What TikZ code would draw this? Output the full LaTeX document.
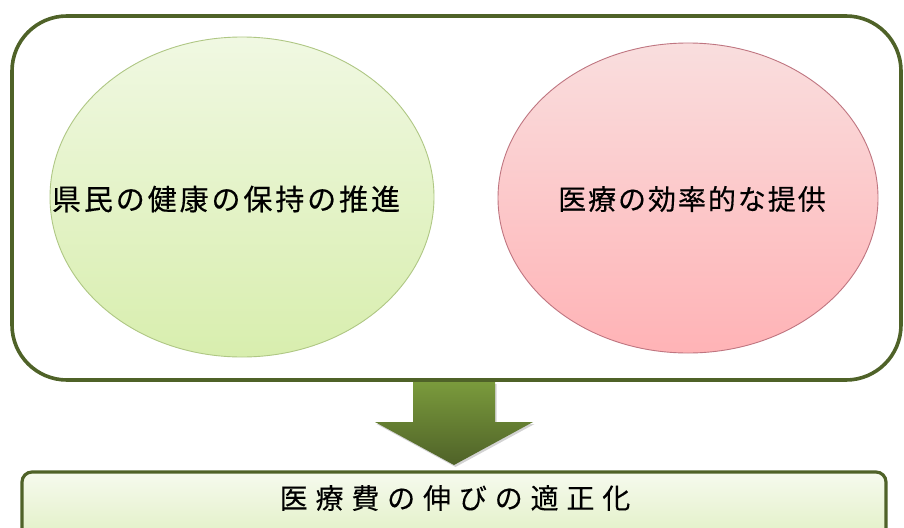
\documentclass[tikz,border=0pt]{standalone}
\usepackage{fontspec}
\newfontfamily\jpA[LetterSpace=10,FakeBold=0.4]{Noto Sans CJK JP}
\newfontfamily\jpB[LetterSpace=7,FakeBold=0.4]{Noto Sans CJK JP}
\newfontfamily\jpC[LetterSpace=28,FakeBold=0.2]{Noto Sans CJK JP}
\usetikzlibrary{shapes.geometric,shadows}
\definecolor{olive}{HTML}{4F6228}
\definecolor{olivelight}{HTML}{7A9A3C}
\definecolor{gtop}{HTML}{F0F8E2}
\definecolor{gbot}{HTML}{D8EEAE}
\definecolor{gline}{HTML}{AFC784}
\definecolor{rtop}{HTML}{F9DEDE}
\definecolor{rbot}{HTML}{FFB3B6}
\definecolor{rline}{HTML}{BF7580}
\definecolor{btop}{HTML}{F6FAEE}
\definecolor{bbot}{HTML}{E0EFC2}
\tikzset{
  frame/.style={draw=olive, line width=3.6pt, rounded corners=55pt, fill=white},
  greenoval/.style={ellipse, draw=gline, line width=0.9pt, top color=gtop, bottom color=gbot, inner sep=0pt},
  redoval/.style={ellipse, draw=rline, line width=0.9pt, top color=rtop, bottom color=rbot, inner sep=0pt},
  resultbox/.style={draw=olive, line width=3.2pt, rounded corners=10pt, top color=btop, bottom color=bbot},
  bigarrow/.style={top color=olivelight, bottom color=olive, draw=none,
    drop shadow={opacity=0.35, shadow xshift=1.5pt, shadow yshift=-2pt}},
  label/.style={text=black, inner sep=0pt}
}
\begin{document}
\begin{tikzpicture}[x=1pt,y=-1pt]
\useasboundingbox (0,0) rectangle (904,527);
\clip (0,0) rectangle (904,527);
% outer frame
\draw[frame] (12,16) rectangle (901,380);
% ovals
\node[greenoval, minimum width=384pt, minimum height=320pt] (health) at (242,197) {};
\node[label, font=\jpA\fontsize{29}{32}\selectfont] (healthtxt) at (226,199) {県民の健康の保持の推進};
\node[redoval, minimum width=380pt, minimum height=310pt] (care) at (688,198) {};
\node[label, font=\jpB\fontsize{28}{32}\selectfont] (caretxt) at (692,199) {医療の効率的な提供};
% result box
\draw[resultbox] (22,472) rectangle (886,545);
\node[label, font=\jpC\fontsize{28}{32}\selectfont] (result) at (455,498) {医療費の伸びの適正化};
% arrow
\coordinate (a1) at (413,382);
\coordinate (a2) at (495,382);
\coordinate (a3) at (495,422);
\coordinate (a4) at (533,422);
\coordinate (tip) at (454,465);
\coordinate (a6) at (375,422);
\coordinate (a7) at (413,422);
\path[bigarrow] (a1) -- (a2) -- (a3) -- (a4) -- (tip) -- (a6) -- (a7) -- cycle;
\end{tikzpicture}
\end{document}
